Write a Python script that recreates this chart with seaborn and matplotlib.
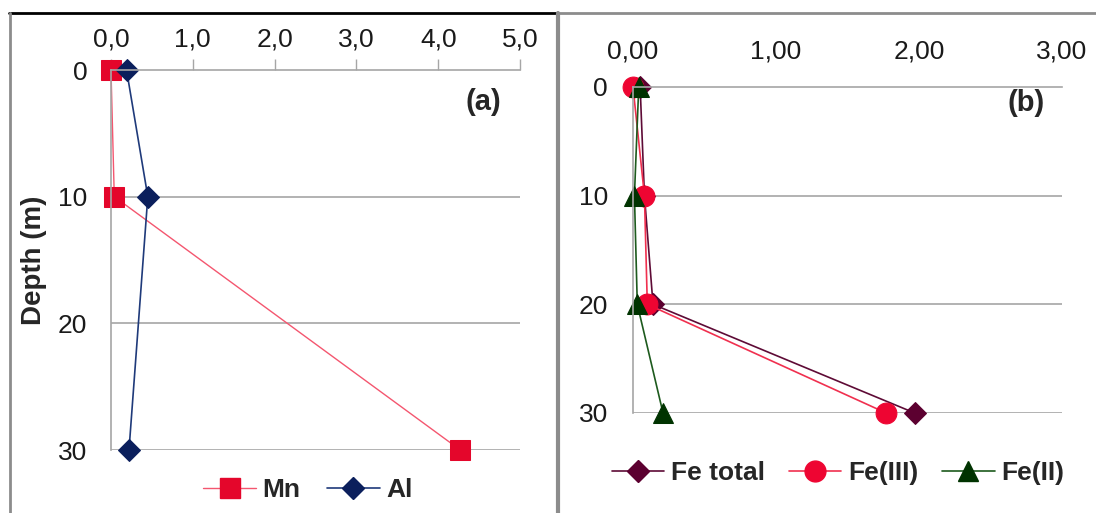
import numpy as np
import pandas as pd
import matplotlib
matplotlib.use("Agg")
import matplotlib.pyplot as plt
from matplotlib.lines import Line2D
import seaborn as sns

# data
depth_a = [0, 10, 30]
mn = [0.0, 0.04, 4.27]
al = [0.19, 0.45, 0.22]

depth_b = [0, 10, 20, 30]
fe_total = [0.05, 0.08, 0.14, 1.97]
fe_iii = [0.0, 0.08, 0.10, 1.77]
fe_ii = [0.04, 0.01, 0.03, 0.21]

xticks_a = [0, 1, 2, 3, 4, 5]
xticklabels_a = ["0,0", "1,0", "2,0", "3,0", "4,0", "5,0"]
xticks_b = [0, 1, 2, 3]
xticklabels_b = ["0,00", "1,00", "2,00", "3,00"]
yticks = [0, 10, 20, 30]

sns.set_style("white")
plt.rcParams["font.family"] = ["Liberation Sans", "DejaVu Sans"]

W, H = 1096, 513
fig = plt.figure(figsize=(W / 100, H / 100), dpi=100)


def px_axes(x0, x1, y0, y1):
    return fig.add_axes([x0 / W, 1 - y1 / H, (x1 - x0) / W, (y1 - y0) / H])


grid_c = "#a6a6a6"
fs = 19
txt_c = "#1a1a1a"

# -------------------------------
# panel (a)
# -------------------------------
ax1 = px_axes(111, 520, 70, 450)
df_a = pd.DataFrame({"depth": depth_a, "Mn": mn, "Al": al})
sns.lineplot(data=df_a, x="Mn", y="depth", sort=False, estimator=None, ax=ax1,
             color="#f4566f", lw=1, marker="s", markersize=15,
             markerfacecolor="#e4062b", markeredgecolor="#e4062b", clip_on=False)
sns.lineplot(data=df_a, x="Al", y="depth", sort=False, estimator=None, ax=ax1,
             color="#1f3a7a", lw=1.2, marker="D", markersize=11,
             markerfacecolor="#0b1f5c", markeredgecolor="#0b1f5c", clip_on=False)
ax1.set_xlim(0, 5)
ax1.set_ylim(30, 0)
ax1.xaxis.tick_top()
ax1.set_xticks(xticks_a, xticklabels_a, fontsize=fs, color=txt_c)
ax1.set_yticks(yticks, [str(t) for t in yticks], fontsize=fs, color=txt_c)
ax1.tick_params(axis="x", length=8, width=1, color=grid_c, pad=5, direction="out")
ax1.tick_params(axis="y", length=8, width=1, color=grid_c, pad=9, direction="out")
ax1.set_xlabel("")
ax1.set_ylabel("Depth (m)", fontsize=20, fontweight="bold", labelpad=8)
for t in [10, 20, 30]:
    ax1.axhline(t, color=grid_c, lw=1.2, zorder=0)
for s in ["right", "bottom"]:
    ax1.spines[s].set_visible(False)
for s in ["left", "top"]:
    ax1.spines[s].set_color(grid_c)
    ax1.spines[s].set_linewidth(1.2)
ax1.text(0.955, 0.915, "(a)", transform=ax1.transAxes, ha="right", va="center",
         fontsize=21, fontweight="bold")
h_a = [Line2D([], [], color="#f4566f", lw=1, marker="s", markersize=15,
              markerfacecolor="#e4062b", markeredgecolor="#e4062b"),
       Line2D([], [], color="#1f3a7a", lw=1.2, marker="D", markersize=11,
              markerfacecolor="#0b1f5c", markeredgecolor="#0b1f5c")]
fig.legend(h_a, ["Mn", "Al"], loc="center", bbox_to_anchor=(308 / W, 1 - 490 / H),
           ncol=2, frameon=False, prop={"size": 19, "weight": "bold"},
           handlelength=2.0, handletextpad=0.25, columnspacing=1.0)

# -------------------------------
# panel (b)
# -------------------------------
ax2 = px_axes(633, 1062, 87, 413)
df_b = pd.DataFrame({"depth": depth_b, "Fe total": fe_total, "Fe(III)": fe_iii, "Fe(II)": fe_ii})
sns.lineplot(data=df_b, x="Fe total", y="depth", sort=False, estimator=None, ax=ax2,
             color="#5e0b36", lw=1.2, marker="D", markersize=11,
             markerfacecolor="#5c0030", markeredgecolor="#5c0030", clip_on=False)
sns.lineplot(data=df_b, x="Fe(III)", y="depth", sort=False, estimator=None, ax=ax2,
             color="#f0304f", lw=1.2, marker="o", markersize=15,
             markerfacecolor="#ee0532", markeredgecolor="#ee0532", clip_on=False)
sns.lineplot(data=df_b, x="Fe(II)", y="depth", sort=False, estimator=None, ax=ax2,
             color="#1d5a1d", lw=1.2, marker="^", markersize=15,
             markerfacecolor="#003300", markeredgecolor="#003300", clip_on=False)
ax2.set_xlim(0, 3)
ax2.set_ylim(30, 0)
ax2.xaxis.tick_top()
ax2.set_xticks(xticks_b, xticklabels_b, fontsize=fs, color=txt_c)
ax2.set_yticks(yticks, [str(t) for t in yticks], fontsize=fs, color=txt_c)
ax2.tick_params(axis="x", length=0, pad=17)
ax2.tick_params(axis="y", length=0, pad=18)
ax2.set_xlabel("")
ax2.set_ylabel("")
for t in [10, 20, 30]:
    ax2.axhline(t, color=grid_c, lw=1.2, zorder=0)
for s in ["right", "bottom"]:
    ax2.spines[s].set_visible(False)
for s in ["left", "top"]:
    ax2.spines[s].set_color(grid_c)
    ax2.spines[s].set_linewidth(1.2)
ax2.text(0.96, 0.95, "(b)", transform=ax2.transAxes, ha="right", va="center",
         fontsize=21, fontweight="bold")
h_b = [Line2D([], [], color="#5e0b36", lw=1.2, marker="D", markersize=11,
              markerfacecolor="#5c0030", markeredgecolor="#5c0030"),
       Line2D([], [], color="#f0304f", lw=1.2, marker="o", markersize=15,
              markerfacecolor="#ee0532", markeredgecolor="#ee0532"),
       Line2D([], [], color="#1d5a1d", lw=1.2, marker="^", markersize=15,
              markerfacecolor="#003300", markeredgecolor="#003300")]
fig.legend(h_b, ["Fe total", "Fe(III)", "Fe(II)"], loc="center",
           bbox_to_anchor=(838 / W, 1 - 473 / H), ncol=3, frameon=False,
           prop={"size": 19, "weight": "bold"}, handlelength=2.0,
           handletextpad=0.25, columnspacing=0.9)

# panel frames
fig.add_artist(Line2D([9 / W, 558 / W], [1 - 13 / H, 1 - 13 / H], color="black", lw=2))
fig.add_artist(Line2D([558 / W, 1.0], [1 - 13 / H, 1 - 13 / H], color="#8c8c8c", lw=2))
fig.add_artist(Line2D([10 / W, 10 / W], [0, 1 - 13 / H], color="#8c8c8c", lw=2))
fig.add_artist(Line2D([558 / W, 558 / W], [0, 1 - 13 / H], color="#8c8c8c", lw=3))

fig.savefig("out.png", dpi=100)
